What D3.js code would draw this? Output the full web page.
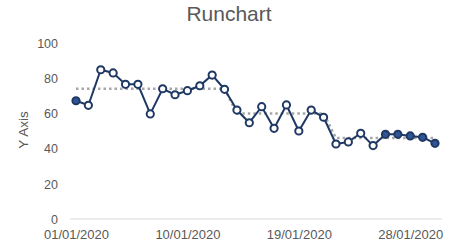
<!DOCTYPE html>
<html>
<head>
<meta charset="utf-8">
<script src="https://cdn.jsdelivr.net/npm/d3@7"></script>
<style>
  body { margin: 0; background: #fff; }
  text { font-family: "Liberation Sans", Arial, sans-serif; fill: #595959; }
</style>
</head>
<body>
<script>
let w = 455;
let h = 246;

// data
let dates = ["2020-01-01","2020-01-02","2020-01-03","2020-01-04","2020-01-05","2020-01-06",
             "2020-01-07","2020-01-08","2020-01-09","2020-01-10","2020-01-11","2020-01-12",
             "2020-01-13","2020-01-14","2020-01-15","2020-01-16","2020-01-17","2020-01-18",
             "2020-01-19","2020-01-20","2020-01-21","2020-01-22","2020-01-23","2020-01-24",
             "2020-01-25","2020-01-26","2020-01-27","2020-01-28","2020-01-29","2020-01-30"];
let values = [67.2, 64.6, 84.8, 83, 76.5, 76.5, 59.7, 74, 70.6, 72.9, 75.7, 81.8,
              73.7, 61.9, 54.7, 63.8, 51.5, 64.8, 50, 61.9, 57.8, 42.6, 43.8, 48.7,
              41.7, 48.1, 48.1, 47.2, 46.4, 43];
let median = [74, 74, 74, 74, 74, 74, 74, 74, 74, 74, 74, 74, 74,
              60, 60, 60, 60, 60, 60, 60, 60,
              46, 46, 46, 46, 46, 46, 46, 46, 46];
let highlighted = [0, 25, 26, 27, 28, 29];
let yTicks = [0, 20, 40, 60, 80, 100];
let xTicks = ["2020-01-01","2020-01-10","2020-01-19","2020-01-28"];

let parse = d3.timeParse("%Y-%m-%d");
let fmt = d3.timeFormat("%d/%m/%Y");

let svg = d3.select("body").append("svg")
            .attr("width", w)
            .attr("height", h);

let x = d3.scaleTime()
          .domain([parse(dates[0]), parse(dates[dates.length - 1])])
          .range([76, 435]);
let y = d3.scaleLinear().domain([0, 100]).range([219, 43]);

// title
svg.append("text")
   .attr("x", 229).attr("y", 21)
   .attr("text-anchor", "middle")
   .style("font-size", "21px")
   .text("Runchart");

// y axis label
svg.append("text")
   .attr("transform", "translate(28,130) rotate(-90)")
   .attr("text-anchor", "middle")
   .style("font-size", "13.5px")
   .text("Y Axis");

// y axis (labels only)
let yAxis = svg.append("g")
   .attr("transform", "translate(58,0)")
   .call(d3.axisLeft(y).tickValues(yTicks).tickSize(0).tickPadding(0));
yAxis.select(".domain").remove();
yAxis.selectAll("text").style("font-size", "12.5px").attr("dy", "0.35em");

// x axis
let xAxis = svg.append("g")
   .attr("transform", "translate(0,219)")
   .call(d3.axisBottom(x).tickValues(xTicks.map(parse)).tickFormat(fmt).tickSize(0).tickPadding(11));
xAxis.select(".domain").remove();
xAxis.selectAll("text").style("font-size", "13px");

svg.append("line")
   .attr("x1", 70).attr("x2", 442)
   .attr("y1", y(0)).attr("y2", y(0))
   .attr("stroke", "#d9d9d9").attr("stroke-width", 1);

// median line
let line = d3.line()
   .x((d, i) => x(parse(dates[i])))
   .y(d => y(d));

svg.append("path")
   .datum(median)
   .attr("d", line)
   .attr("fill", "none")
   .attr("stroke", "#a6a6a6")
   .attr("stroke-width", 2.5)
   .attr("stroke-dasharray", "2.5,3");

// data line
svg.append("path")
   .datum(values)
   .attr("d", line)
   .attr("fill", "none")
   .attr("stroke", "#1f3864")
   .attr("stroke-width", 2);

svg.selectAll("circle")
   .data(values)
   .enter()
   .append("circle")
   .attr("cx", (d, i) => x(parse(dates[i])))
   .attr("cy", d => y(d))
   .attr("r", 3.6)
   .attr("fill", (d, i) => highlighted.includes(i) ? "#2f5597" : "#fff")
   .attr("stroke", "#1f3864")
   .attr("stroke-width", 2);
</script>
</body>
</html>
